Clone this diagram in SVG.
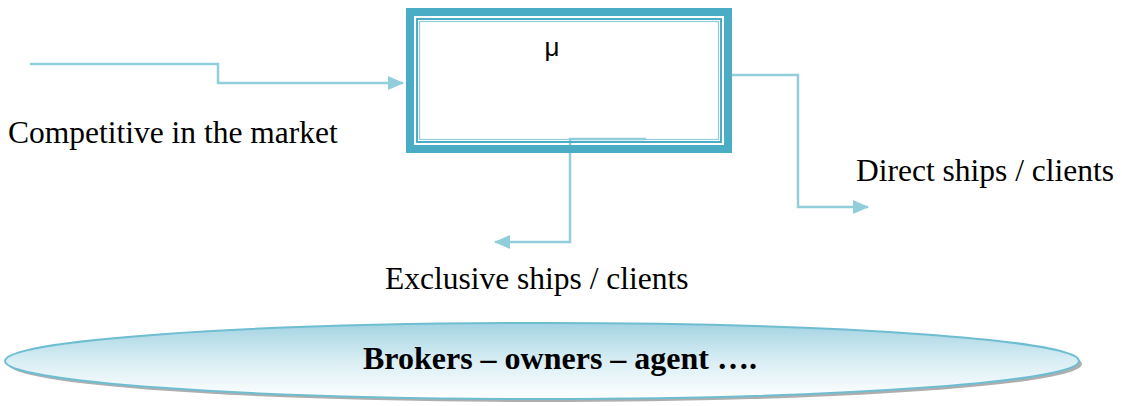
<svg xmlns="http://www.w3.org/2000/svg" width="1122" height="406" viewBox="0 0 1122 406">
  <style>
    .conn { fill: none; stroke: #92cddc; stroke-width: 2.5; }
    .lbl { font-family: "Liberation Serif", "Times New Roman", serif; font-size: 31.5px; fill: #000; }
    .bold { font-weight: bold; font-size: 32px; }
    .mu { font-family: "Liberation Sans", Arial, sans-serif; font-size: 26px; fill: #000; }
  </style>
  <defs>
    <marker id="arrow" markerWidth="16" markerHeight="14" refX="15" refY="7" orient="auto" markerUnits="userSpaceOnUse">
      <path d="M0,0 L16,7 L0,14 Z" fill="#92cddc"/>
    </marker>
    <linearGradient id="ellGrad" x1="0" y1="0" x2="0" y2="1">
      <stop offset="0" stop-color="#a3d3e2"/>
      <stop offset="0.5" stop-color="#d9eef4"/>
      <stop offset="1" stop-color="#ffffff"/>
    </linearGradient>
  </defs>

  <g id="connectors">
    <polyline class="conn" points="30,64 218,64 218,83 403,83" marker-end="url(#arrow)"/>
    <polyline class="conn" points="725,75 798,75 798,207 868,207" marker-end="url(#arrow)"/>
    <polyline class="conn" points="646,139 570,139 570,242 495,242" marker-end="url(#arrow)"/>
  </g>

  <g id="box">
    <rect x="410" y="12" width="318" height="137" fill="none" stroke="#4bacc6" stroke-width="8"/>
    <rect x="417" y="19" width="304" height="123" fill="none" stroke="#4bacc6" stroke-width="2"/>
    <rect x="419.5" y="21.5" width="299" height="118" fill="none" stroke="#93cddd" stroke-width="1.2"/>
    <text class="mu" x="552" y="56" text-anchor="middle">μ</text>
  </g>

  <g id="label-competitive">
    <text class="lbl" x="8" y="143">Competitive in the market</text>
  </g>
  <g id="label-direct">
    <text class="lbl" x="856" y="181">Direct ships / clients</text>
  </g>
  <g id="label-exclusive">
    <text class="lbl" x="385" y="289">Exclusive ships / clients</text>
  </g>

  <g id="ellipse-node">
    <ellipse cx="545" cy="364" rx="537" ry="38" fill="#9a9a9a" opacity="0.8"/>
    <ellipse cx="542" cy="361" rx="537" ry="38" fill="url(#ellGrad)" stroke="#6fbdd1" stroke-width="2"/>
    <text class="lbl bold" x="560" y="369" text-anchor="middle">Brokers – owners – agent ….</text>
  </g>
</svg>
